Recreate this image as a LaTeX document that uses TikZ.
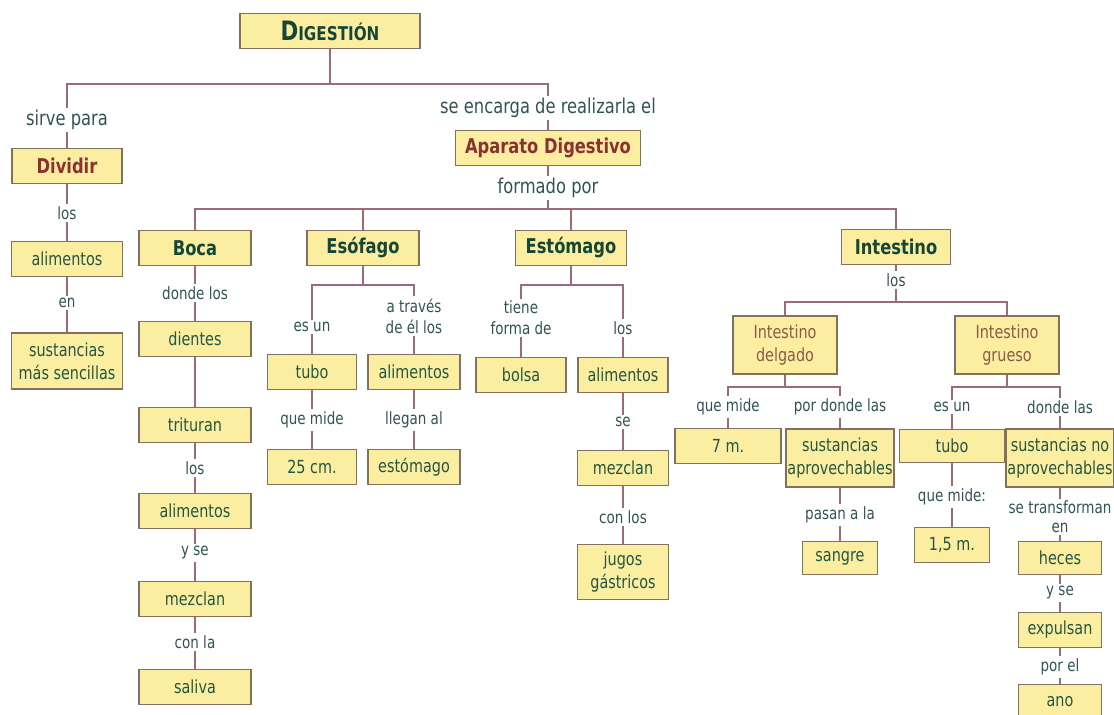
\documentclass[tikz,border=0pt]{standalone}
\usepackage{fontspec}
\setmainfont{DejaVu Sans}[FakeStretch=0.8]
\usepackage{xcolor}
\usepackage{tikz}
\definecolor{boxfill}{RGB}{252,238,160}
\definecolor{boxline}{RGB}{130,112,96}
\definecolor{linkcol}{RGB}{158,106,116}
\definecolor{wordcol}{RGB}{48,82,86}
\definecolor{boxtext}{RGB}{36,86,68}
\definecolor{headcol}{RGB}{22,70,56}
\definecolor{redtext}{RGB}{138,50,50}
\definecolor{browntext}{RGB}{140,90,72}
\tikzstyle{box} = [rectangle, draw=boxline, line width=1.1pt, fill=boxfill, minimum width=2.8cm, minimum height=0.875cm, inner sep=1pt, align=center, text=boxtext, font=\fontsize{12.8}{16.4}\selectfont]
\tikzstyle{headbox} = [box, text=headcol, font=\fontsize{14.5}{17}\selectfont\bfseries]
\tikzstyle{linktext} = [inner sep=1.5pt, align=center, text=wordcol, font=\fontsize{12}{15}\selectfont]
\tikzstyle{bigtext} = [linktext, font=\fontsize{14.5}{17}\selectfont]
\tikzstyle{link} = [draw=linkcol, line width=1.25pt]

\begin{document}
\begin{tikzpicture}[x=0.025cm, y=-0.025cm]
    \useasboundingbox (0,0) rectangle (1114,715);
    % top of the map
    \node (digestion) [headbox, minimum width=4.5cm] at (330,31) {\fontsize{19}{20}\selectfont D\fontsize{13.5}{18}\selectfont IGESTIÓN};
    \coordinate (topjoin) at (330,84);
    \node (sirve) [bigtext] at (67,120) {sirve para};
    \node (encarga) [bigtext] at (548,108) {se encarga de realizarla el};
    \node (dividir) [headbox, text=redtext, minimum width=2.75cm] at (67,166) {Dividir};
    \node (aparato) [headbox, text=redtext, minimum width=4.625cm] at (548,148) {Aparato Digestivo};
    \node (formado) [bigtext] at (548,188) {formado por};
    \coordinate (organjoin) at (548,209);
    % dividir
    \node (los1) [linktext] at (67,213) {los};
    \node (alim1) [box, minimum width=2.775cm] at (67,259) {alimentos};
    \node (en1) [linktext] at (67,303) {en};
    \node (sencillas) [box, minimum width=2.775cm, minimum height=1.4cm] at (67,361) {sustancias\\más sencillas};
    % organos
    \node (boca) [headbox] at (195,248) {Boca};
    \node (esofago) [headbox] at (363,248) {Esófago};
    \node (estomago) [headbox, minimum width=2.775cm] at (571,248) {Estómago};
    \node (intestino) [headbox, minimum width=2.725cm] at (896,247) {Intestino};
    % boca
    \node (dondelos) [linktext] at (195,293) {donde los};
    \node (dientes) [box] at (195,339) {dientes};
    \node (trituran) [box] at (195,425) {trituran};
    \node (los2) [linktext] at (195,468) {los};
    \node (alim2) [box] at (195,511) {alimentos};
    \node (yse1) [linktext] at (195,553) {y se};
    \node (mezclan1) [box] at (195,599) {mezclan};
    \node (conla) [linktext] at (195,642) {con la};
    \node (saliva) [box] at (195,687) {saliva};
    % esofago
    \coordinate (esojoin) at (363,285);
    \node (esun1) [linktext] at (312,327) {es un};
    \node (atraves) [linktext] at (414,316) {a través\\de él los};
    \node (tubo1) [box, minimum width=2.225cm] at (312,372) {tubo};
    \node (alim3) [box, minimum width=2.3cm] at (414,372) {alimentos};
    \node (quemide1) [linktext] at (312,420) {que mide};
    \node (llegan) [linktext] at (414,420) {llegan al};
    \node (cm25) [box, minimum width=2.225cm] at (312,467) {25 cm.};
    \node (estomago2) [box, minimum width=2.3cm] at (414,467) {estómago};
    % estomago
    \coordinate (estjoin) at (571,285);
    \node (tiene) [linktext] at (521,318) {tiene\\forma de};
    \node (los3) [linktext] at (623,328) {los};
    \node (bolsa) [box, minimum width=2.25cm] at (521,375) {bolsa};
    \node (alim4) [box, minimum width=2.25cm] at (623,375) {alimentos};
    \node (se1) [linktext] at (623,422) {se};
    \node (mezclan2) [box, minimum width=2.275cm] at (623,468) {mezclan};
    \node (conlos) [linktext] at (623,517) {con los};
    \node (jugos) [box, minimum width=2.275cm, minimum height=1.375cm] at (623,572) {jugos\\gástricos};
    % intestino
    \node (los4) [linktext] at (896,280) {los};
    \coordinate (intjoin) at (896,302);
    \node (delgado) [box, text=browntext, minimum width=2.6cm, minimum height=1.45cm] at (785,345) {Intestino\\delgado};
    \node (grueso) [box, text=browntext, minimum width=2.6cm, minimum height=1.45cm] at (1007,345) {Intestino\\grueso};
    \coordinate (deljoin) at (785,387);
    \node (quemide2) [linktext] at (728,407) {que mide};
    \node (pordonde) [linktext] at (840,407) {por donde las};
    \node (m7) [box, minimum width=2.65cm] at (728,446) {7 m.};
    \node (aprov) [box, minimum width=2.6cm, minimum height=1.45cm] at (840,458) {sustancias\\aprovechables};
    \node (pasan) [linktext] at (840,515) {pasan a la};
    \node (sangre) [box, minimum width=1.875cm, minimum height=0.825cm] at (840,558) {sangre};
    \coordinate (grujoin) at (1007,387);
    \node (esun2) [linktext] at (952,407) {es un};
    \node (dondelas) [linktext] at (1060,407) {donde las};
    \node (tubo2) [box, minimum width=2.625cm, minimum height=0.825cm] at (952,446) {tubo};
    \node (quemide3) [linktext] at (952,497) {que mide:};
    \node (m15) [box, minimum width=1.875cm] at (952,545) {1,5 m.};
    \node (noaprov) [box, minimum width=2.575cm, minimum height=1.45cm] at (1060,458) {sustancias no\\aprovechables};
    \node (transf) [linktext, font=\fontsize{12}{13.5}\selectfont] at (1060,517) {se transforman\\en};
    \node (heces) [box, minimum width=2.075cm, minimum height=0.825cm] at (1060,558) {heces};
    \node (yse2) [linktext] at (1060,593) {y se};
    \node (expulsan) [box, minimum width=2.075cm] at (1060,630) {expulsan};
    \node (porel) [linktext] at (1060,667) {por el};
    \node (ano) [box, minimum width=2.075cm] at (1060,702) {ano};
    % connectors
    \draw [link] (digestion) -- (topjoin);
    \draw [link] (sirve) |- (topjoin) -| (encarga);
    \draw [link] (sirve) -- (dividir);
    \draw [link] (encarga) -- (aparato);
    \draw [link] (aparato) -- (formado);
    \draw [link] (formado) -- (organjoin);
    \draw [link] (boca) |- (organjoin) -| (intestino);
    \draw [link] (esofago) |- (organjoin);
    \draw [link] (estomago) |- (organjoin);
    \draw [link] (dividir) -- (los1) -- (alim1) -- (en1) -- (sencillas);
    \draw [link] (boca) -- (dondelos) -- (dientes) -- (trituran) -- (los2) -- (alim2) -- (yse1) -- (mezclan1) -- (conla) -- (saliva);
    \draw [link] (esofago) -- (esojoin);
    \draw [link] (esun1) |- (esojoin) -| (atraves);
    \draw [link] (esun1) -- (tubo1) -- (quemide1) -- (cm25);
    \draw [link] (atraves) -- (alim3) -- (llegan) -- (estomago2);
    \draw [link] (estomago) -- (estjoin);
    \draw [link] (tiene) |- (estjoin) -| (los3);
    \draw [link] (tiene) -- (bolsa);
    \draw [link] (los3) -- (alim4) -- (se1) -- (mezclan2) -- (conlos) -- (jugos);
    \draw [link] (intestino) -- (los4) -- (intjoin);
    \draw [link] (delgado) |- (intjoin) -| (grueso);
    \draw [link] (delgado) -- (deljoin);
    \draw [link] (quemide2) |- (deljoin) -| (pordonde);
    \draw [link] (quemide2) -- (m7);
    \draw [link] (pordonde) -- (aprov) -- (pasan) -- (sangre);
    \draw [link] (grueso) -- (grujoin);
    \draw [link] (esun2) |- (grujoin) -| (dondelas);
    \draw [link] (esun2) -- (tubo2) -- (quemide3) -- (m15);
    \draw [link] (dondelas) -- (noaprov) -- (transf) -- (heces) -- (yse2) -- (expulsan) -- (porel) -- (ano);
\end{tikzpicture}
\end{document}
